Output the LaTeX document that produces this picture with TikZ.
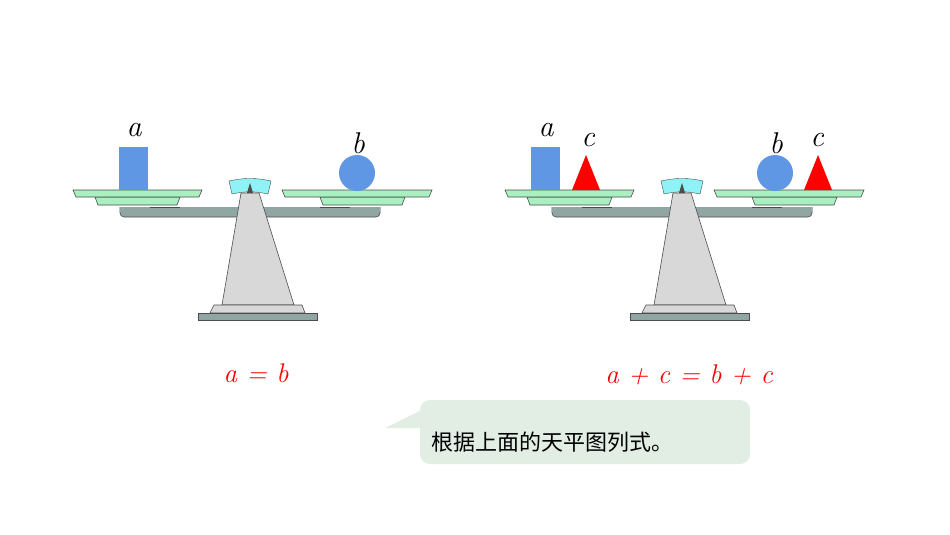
\documentclass[tikz,border=0pt]{standalone}
\usepackage{fontspec}
\newfontfamily\cjk{Noto Sans CJK SC}
\usetikzlibrary{positioning}
\definecolor{panfill}{HTML}{A8F0C0}
\definecolor{beamfill}{HTML}{8FA6A2}
\definecolor{standfill}{HTML}{D8D8D8}
\definecolor{dialfill}{HTML}{8EF2F6}
\definecolor{objblue}{HTML}{6097E4}
\definecolor{bubble}{HTML}{E2EEE4}
\tikzset{
  pan/.style={draw=black!70,fill=panfill,line width=0.6pt},
  beam/.style={draw=black!70,fill=beamfill,line width=0.6pt},
  stand/.style={draw=black!70,fill=standfill,line width=0.6pt},
  obj/.style={fill=objblue},
  lbl/.style={font=\itshape\fontsize{30}{30}\selectfont},
  eq/.style={text=red,font=\itshape\fontsize{27}{27}\selectfont}
}
\newcommand{\balance}{%
  % beam and pans
  \draw[beam,rounded corners=4pt] (120,207) -- (120,217) -- (380,217) -- (380,207);
  \fill[beamfill] (120.3,207) rectangle (379.7,212);
  \draw[beam] (150,207) -- (180,207) (320,207) -- (350,207);
  \draw[pan] (95,197) -- (180,197) -- (177,205) -- (98,205) -- cycle;
  \draw[pan] (320,197) -- (405,197) -- (402,205) -- (323,205) -- cycle;
  \draw[pan] (73,190) -- (202,190) -- (199,197) -- (76,197) -- cycle;
  \draw[pan] (282,190) -- (432,190) -- (429,197) -- (285,197) -- cycle;
  % stand
  \draw[stand] (241,193) -- (259,193) -- (294,305) -- (222,305) -- cycle;
  \draw[stand] (214,305) -- (302,305) -- (305,313) -- (210,313) -- cycle;
  \draw[beam] (198,313) rectangle (317,320);
  % dial
  \draw[draw=black!70,fill=dialfill] (229,181) to[bend left=12] (271,181) -- (268,194) to[bend right=12] (232,194) -- cycle;
  \fill[black!70] (247,193) -- (250,183) -- (253,193) -- cycle;
}
\begin{document}
\begin{tikzpicture}[x=1pt,y=-1pt]
  \useasboundingbox[fill=white] (0,0) rectangle (950,535);
  % left balance
  \balance
  \fill[obj] (119,147) rectangle (148,190);
  \node[lbl] (la) at (134,130) {a};
  \fill[obj] (357,173) circle[radius=18];
  \node[lbl] (lb) at (358,143) {b};
  % right balance
  \begin{scope}[shift={(432,0)}]
    \balance
  \end{scope}
  \fill[obj] (531,147) rectangle (560,190);
  \node[lbl] (ra) at (546,130) {a};
  \fill[red] (572,190) -- (586,155) -- (600,190) -- cycle;
  \node[lbl] (rc1) at (588,140) {c};
  \fill[obj] (775,173) circle[radius=18];
  \node[lbl] (rb) at (776,143) {b};
  \fill[red] (804,190) -- (818,155) -- (832,190) -- cycle;
  \node[lbl] (rc2) at (817,140) {c};
  % equations
  \node[eq] (eq1) at (256,373) {a = b};
  \node[eq] (eq2) at (689,375) {a + c = b + c};
  % callout
  \fill[bubble,rounded corners=10pt] (420,400) rectangle (750,464);
  \fill[bubble] (385,428) -- (422,410) -- (422,428) -- cycle;
  \node[anchor=west,font=\cjk\fontsize{22}{22}\selectfont] (note) at (428,442) {根据上面的天平图列式。};
\end{tikzpicture}
\end{document}
